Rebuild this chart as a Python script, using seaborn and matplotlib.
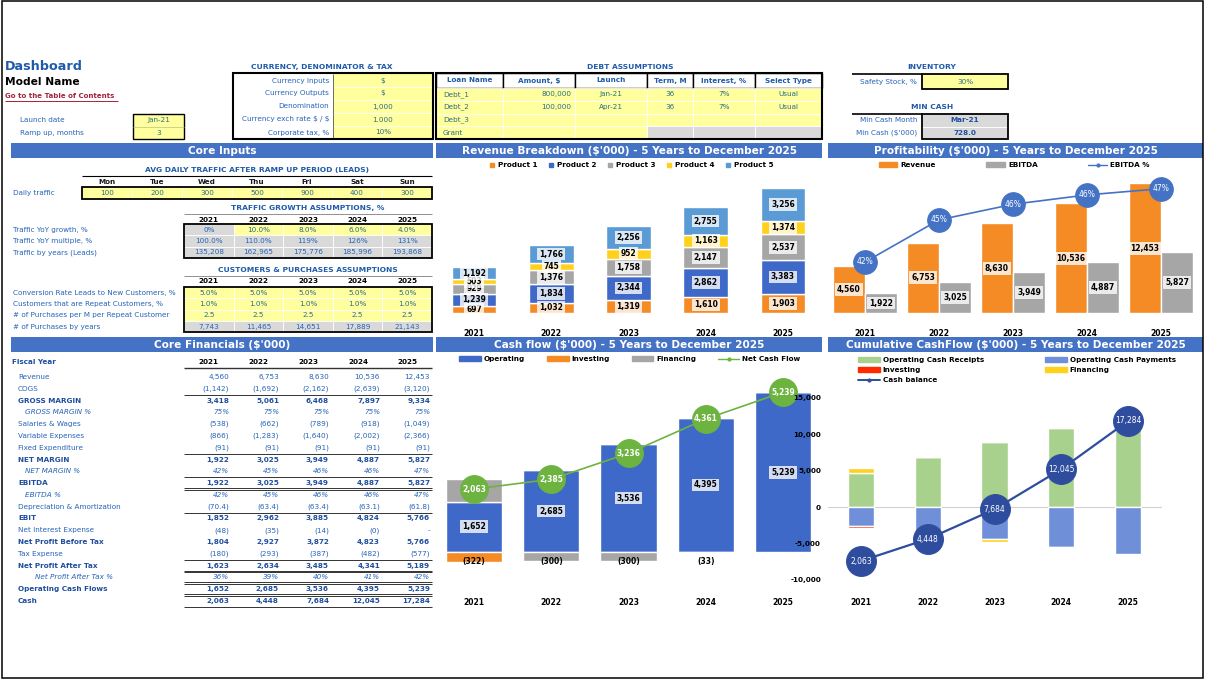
"""Financial model dashboard: input tables, core financials and four summary charts."""
import matplotlib
matplotlib.use("Agg")
import matplotlib.pyplot as plt
from matplotlib.lines import Line2D
from matplotlib.patches import Patch, Rectangle
import numpy as np
import pandas as pd
import seaborn as sns

# ---------------------------------------------------------------- data
years = ["2021", "2022", "2023", "2024", "2025"]

currency_labels = ["Currency Inputs", "Currency Outputs", "Denomination",
                   "Currency exch rate $ / $", "Corporate tax, %"]
currency_values = ["$", "$", "1,000", "1.000", "10%"]

debt_headers = ["Loan Name", "Amount, $", "Launch", "Term, M", "Interest, %", "Select Type"]
debt_names = ["Debt_1", "Debt_2", "Debt_3", "Grant"]
debt_amounts = ["800,000", "100,000", "", ""]
debt_launch = ["Jan-21", "Apr-21", "", ""]
debt_term = ["36", "36", "", ""]
debt_interest = ["7%", "7%", "", ""]
debt_type = ["Usual", "Usual", "", ""]

days = ["Mon", "Tue", "Wed", "Thu", "Fri", "Sat", "Sun"]
daily_traffic = ["100", "200", "300", "500", "900", "400", "300"]

traffic_growth = ["0%", "10.0%", "8.0%", "6.0%", "4.0%"]
traffic_multiple = ["100.0%", "110.0%", "119%", "126%", "131%"]
traffic_leads = ["135,208", "162,965", "175,776", "185,996", "193,868"]

conversion_rate = ["5.0%", "5.0%", "5.0%", "5.0%", "5.0%"]
repeat_share = ["1.0%", "1.0%", "1.0%", "1.0%", "1.0%"]
purchases_per_month = ["2.5", "2.5", "2.5", "2.5", "2.5"]
purchases_by_year = ["7,743", "11,465", "14,651", "17,889", "21,143"]

# (label, values, style)  n = normal, b = bold, p = italic percentage
fin_rows = [
    ("Revenue", ["4,560", "6,753", "8,630", "10,536", "12,453"], "n"),
    ("COGS", ["(1,142)", "(1,692)", "(2,162)", "(2,639)", "(3,120)"], "n"),
    ("GROSS MARGIN", ["3,418", "5,061", "6,468", "7,897", "9,334"], "b"),
    ("GROSS MARGIN %", ["75%", "75%", "75%", "75%", "75%"], "p"),
    ("Salaries & Wages", ["(538)", "(662)", "(789)", "(918)", "(1,049)"], "n"),
    ("Variable Expenses", ["(866)", "(1,283)", "(1,640)", "(2,002)", "(2,366)"], "n"),
    ("Fixed Expenditure", ["(91)", "(91)", "(91)", "(91)", "(91)"], "n"),
    ("NET MARGIN", ["1,922", "3,025", "3,949", "4,887", "5,827"], "b"),
    ("NET MARGIN %", ["42%", "45%", "46%", "46%", "47%"], "p"),
    ("EBITDA", ["1,922", "3,025", "3,949", "4,887", "5,827"], "b"),
    ("EBITDA %", ["42%", "45%", "46%", "46%", "47%"], "p"),
    ("Depreciation & Amortization", ["(70.4)", "(63.4)", "(63.4)", "(63.1)", "(61.8)"], "n"),
    ("EBIT", ["1,852", "2,962", "3,885", "4,824", "5,766"], "b"),
    ("Net Interest Expense", ["(48)", "(35)", "(14)", "(0)", "-"], "n"),
    ("Net Profit Before Tax", ["1,804", "2,927", "3,872", "4,823", "5,766"], "b"),
    ("Tax Expense", ["(180)", "(293)", "(387)", "(482)", "(577)"], "n"),
    ("Net Profit After Tax", ["1,623", "2,634", "3,485", "4,341", "5,189"], "b"),
    ("Net Profit After Tax %", ["36%", "39%", "40%", "41%", "42%"], "p"),
    ("Operating Cash Flows", ["1,652", "2,685", "3,536", "4,395", "5,239"], "b"),
    ("Cash", ["2,063", "4,448", "7,684", "12,045", "17,284"], "b"),
]

product_names = ["Product 1", "Product 2", "Product 3", "Product 4", "Product 5"]
product_1 = [697, 1032, 1319, 1610, 1903]
product_2 = [1239, 1834, 2344, 2862, 3383]
product_3 = [929, 1376, 1758, 2147, 2537]
product_4 = [503, 745, 952, 1163, 1374]
product_5 = [1192, 1766, 2256, 2755, 3256]

revenue = [4560, 6753, 8630, 10536, 12453]
ebitda = [1922, 3025, 3949, 4887, 5827]
ebitda_pct = [0.421, 0.448, 0.458, 0.464, 0.468]

cf_operating = [1652, 2685, 3536, 4395, 5239]
cf_investing = [-322, 0, 0, 0, 0]
cf_financing = [733, -300, -300, -33, 0]
net_cash_flow = [2063, 2385, 3236, 4361, 5239]

cum_receipts = [4650, 6850, 8900, 10800, 12400]
cum_payments = [-2600, -3600, -4450, -5450, -6450]
cum_investing = [-322, 0, 0, 0, 0]
cum_financing = [733, 0, -300, -33, 0]
cash_balance = [2063, 4448, 7684, 12045, 17284]

# ---------------------------------------------------------------- style
W, H = 1206, 682
sns.set_theme(style="white")
plt.rcParams["font.family"] = ["DejaVu Sans"]
plt.rcParams["text.parse_math"] = False   # "$ / $" is plain text here

BAR_BLUE = "#4472C4"
TITLE = "#1F5BAA"
LABEL = "#2563B8"
BOLD_LBL = "#1F4E9E"
INPUT = "#2B6C8C"
YELLOW = "#FFFF9E"
GREY = "#D9D9D9"
ORANGE = "#F58B25"
BLUE = "#3F69C8"
GRAY = "#A6A6A6"
GOLD = "#FFD11A"
SKY = "#5B9BD5"
GREEN = "#6DB33F"
LGREEN = "#A9D18E"
PAYBLUE = "#6F8FD8"
RED = "#FF2A00"
NAVY = "#2F4D9E"
FS = 5.2

fig = plt.figure(figsize=(W / 100, H / 100), dpi=100)
bg = fig.add_axes([0, 0, 1, 1])
bg.set_xlim(0, W)
bg.set_ylim(H, 0)
bg.axis("off")


def rect(x0, y0, x1, y1, fc="none", ec="none", lw=0.0, z=1):
    bg.add_patch(Rectangle((x0, y0), x1 - x0, y1 - y0, facecolor=fc,
                           edgecolor=ec, linewidth=lw, zorder=z))


def hline(x0, x1, y, lw=0.8, color="black", z=2):
    bg.plot([x0, x1], [y, y], color=color, lw=lw, solid_capstyle="butt", zorder=z)


def vline(x, y0, y1, lw=0.8, color="black", z=2):
    bg.plot([x, x], [y0, y1], color=color, lw=lw, solid_capstyle="butt", zorder=z)


def txt(x, y, s, size=FS, color=LABEL, weight="normal", ha="left", style="normal"):
    bg.text(x, y, s, fontsize=size, color=color, fontweight=weight, ha=ha,
            va="center", fontstyle=style, zorder=3)


def section(x0, x1, y0, y1, title):
    rect(x0, y0, x1, y1, fc=BAR_BLUE)
    txt((x0 + x1) / 2, (y0 + y1) / 2 + 0.5, title, size=7.6, color="white", weight="bold", ha="center")


def chart_axes(x0, y0, x1, y1):
    return fig.add_axes([x0 / W, 1 - y1 / H, (x1 - x0) / W, (y1 - y0) / H])


def clean(ax, pad):
    ax.set_facecolor("none")
    for s in ax.spines.values():
        s.set_visible(False)
    ax.set_yticks([])
    ax.set_xlabel("")
    ax.set_ylabel("")
    ax.set_xlim(-0.5, 4.5)
    ax.set_xticks(range(5))
    ax.set_xticklabels(years, fontsize=5.5, fontweight="bold", color="black")
    ax.tick_params(axis="x", length=0, pad=pad)


def value_label(ax, x, y, s, box=True, color="black", weight="bold", z=3):
    kw = dict(boxstyle="square,pad=0.25", fc="white", ec="none", alpha=0.78) if box else None
    ax.text(x, y, s, ha="center", va="center", fontsize=5.5, fontweight=weight,
            color=color, bbox=kw, zorder=z)


def acc(v):
    return f"({abs(v):,.0f})" if v < 0 else f"{v:,.0f}"


# ---------------------------------------------------------------- header block
txt(5, 67, "Dashboard", size=9.2, color=TITLE, weight="bold")
txt(5, 82, "Model Name", size=7.7, color="black", weight="bold")
txt(5, 96, "Go to the Table of Contents", size=5.0, color="#A3243B", weight="bold")
hline(5, 118, 100.5, lw=0.7, color="#A3243B")

txt(20, 120, "Launch date")
txt(20, 133, "Ramp up, months")
rect(133, 114, 184, 139, fc=YELLOW, ec="black", lw=1.0)
hline(133, 184, 126.5, lw=0.5, color="#BFBF80")
txt(158.5, 120, "Jan-21", color=INPUT, ha="center")
txt(158.5, 133, "3", color=INPUT, ha="center")

# currency, denomination & tax
txt(322, 67, "CURRENCY, DENOMINATOR & TAX", size=5.4, color=TITLE, weight="bold", ha="center")
rect(333, 74, 432, 139, fc=YELLOW)
for k, (lab, val) in enumerate(zip(currency_labels, currency_values)):
    y = 80.5 + 13 * k
    txt(329, y, lab, ha="right")
    txt(383, y, val, color=INPUT, ha="center")
    if k < 4:
        hline(333, 432, 74 + 13 * (k + 1), lw=0.6, color="white")
vline(333, 74, 139, lw=0.6, color="#555555")
rect(233, 73, 433, 139, ec="black", lw=1.5, z=4)

# debt assumptions
txt(630, 67, "DEBT ASSUMPTIONS", size=5.4, color=TITLE, weight="bold", ha="center")
cols = [436, 503, 575, 647, 693, 755, 822]
debt_cols = [debt_names, debt_amounts, debt_launch, debt_term, debt_interest, debt_type]
row_h = (139 - 88) / 4
for c, (head, values) in enumerate(zip(debt_headers, debt_cols)):
    x0, x1 = cols[c], cols[c + 1]
    rect(x0, 73, x1, 88, fc="white", ec="black", lw=1.0)
    txt((x0 + x1) / 2, 80.5, head, color=TITLE, weight="bold", ha="center")
    for r, val in enumerate(values):
        y0 = 88 + row_h * r
        fc = GREY if (r == 3 and c >= 3) else YELLOW
        rect(x0, y0, x1, y0 + row_h, fc=fc, ec="white", lw=0.6)
        yc = y0 + row_h / 2
        if c == 0:
            txt(x0 + 7, yc, val, color=INPUT)
        elif c == 1:
            txt(x1 - 4, yc, val, color=INPUT, ha="right")
        else:
            txt((x0 + x1) / 2, yc, val, color=INPUT, ha="center")
rect(436, 73, 822, 139, ec="black", lw=1.5, z=4)

# inventory / min cash
txt(932, 67, "INVENTORY", size=5.4, color=TITLE, weight="bold", ha="center")
hline(852, 922, 74, lw=1.2)
txt(917, 82, "Safety Stock, %", ha="right")
rect(922, 74, 1008, 89, fc=YELLOW, ec="black", lw=1.3)
txt(965, 81.5, "30%", color=INPUT, ha="center")

txt(932, 107, "MIN CASH", size=5.4, color=TITLE, weight="bold", ha="center")
hline(852, 922, 113.5, lw=1.2)
rect(922, 113.5, 1008, 126.5, fc=GREY, ec="white", lw=0.6)
rect(922, 126.5, 1008, 139, fc=GREY, ec="white", lw=0.6)
rect(922, 113.5, 1008, 139, ec="black", lw=1.3, z=4)
txt(917, 120, "Min Cash Month", ha="right")
txt(917, 133, "Min Cash ($'000)", ha="right")
txt(965, 120, "Mar-21", color=BOLD_LBL, weight="bold", ha="center")
txt(965, 133, "728.0", color=BOLD_LBL, weight="bold", ha="center")

# ---------------------------------------------------------------- section bars
section(11, 433, 143, 158, "Core Inputs")
section(436, 822, 143, 158, "Revenue Breakdown ($'000) - 5 Years to December 2025")
section(828, 1203, 143, 158, "Profitability ($'000) - 5 Years to December 2025")
section(11, 433, 337, 352, "Core Financials ($'000)")
section(436, 822, 337, 352, "Cash flow ($'000) - 5 Years to December 2025")
section(828, 1203, 337, 352, "Cumulative CashFlow ($'000) - 5 Years to December 2025")

# ---------------------------------------------------------------- core inputs
txt(257, 170, "AVG DAILY TRAFFIC AFTER RAMP UP PERIOD (LEADS)", size=5.4, color=TITLE,
    weight="bold", ha="center")
hline(82, 432, 176, lw=0.8)
day_w = (432 - 82) / 7
rect(82, 187, 432, 199, fc=YELLOW)
for i, (d, v) in enumerate(zip(days, daily_traffic)):
    xc = 82 + day_w * (i + 0.5)
    txt(xc, 182, d, color="#1A1A1A", weight="bold", ha="center")
    txt(xc, 193, v, color=INPUT, ha="center")
    if i:
        vline(82 + day_w * i, 187, 199, lw=0.5, color="white")
txt(13, 193, "Daily traffic")
rect(82, 187, 432, 199, ec="black", lw=1.3, z=4)

yr_w = (432 - 184) / 5


def year_table(title, title_y, head_y, top, labels, rows, fills):
    txt(308, title_y, title, size=5.4, color=TITLE, weight="bold", ha="center")
    hline(184, 432, title_y + 5.5, lw=0.6, color="#7F7F7F")
    rh = 11.3
    for i, yr in enumerate(years):
        txt(184 + yr_w * (i + 0.5), head_y, yr, color="black", weight="bold", ha="center")
    for r, (lab, vals) in enumerate(zip(labels, rows)):
        y0 = top + rh * r
        txt(13, y0 + rh / 2, lab)
        for i, v in enumerate(vals):
            x0 = 184 + yr_w * i
            fc = fills[r][i]
            rect(x0, y0, x0 + yr_w, y0 + rh, fc=fc, ec="white", lw=0.6)
            txt(x0 + yr_w / 2, y0 + rh / 2, v, color=INPUT if fc == YELLOW else LABEL, ha="center")
    rect(184, top, 432, top + rh * len(rows), ec="black", lw=1.3, z=4)


year_table("TRAFFIC GROWTH ASSUMPTIONS, %", 208, 219.5, 224,
           ["Traffic YoY growth, %", "Traffic YoY multiple, %", "Traffic by years (Leads)"],
           [traffic_growth, traffic_multiple, traffic_leads],
           [[GREY] + [YELLOW] * 4, [GREY] * 5, [GREY] * 5])

year_table("CUSTOMERS & PURCHASES ASSUMPTIONS", 270, 281, 287,
           ["Conversion Rate Leads to New Customers, %", "Customers that are Repeat Customers, %",
            "# of Purchases per M per Repeat Customer", "# of Purchases by years"],
           [conversion_rate, repeat_share, purchases_per_month, purchases_by_year],
           [[YELLOW] * 5, [YELLOW] * 5, [YELLOW] * 5, [GREY] * 5])

# ---------------------------------------------------------------- core financials
txt(12, 362.5, "Fiscal Year", color=BOLD_LBL, weight="bold")
fin_centers = [208, 258, 308, 358, 408]
fin_right = [229, 279, 329, 380, 430]
for xc, yr in zip(fin_centers, years):
    txt(xc, 362, yr, color="black", weight="bold", ha="center")
hline(184, 432, 367.5, lw=1.0, color="#333333")

fin_y0, fin_step = 377, 11.79
for i, (lab, vals, kind) in enumerate(fin_rows):
    y = fin_y0 + fin_step * i
    if kind == "b":
        txt(18, y, lab, color=BOLD_LBL, weight="bold")
    elif kind == "p":
        indent = 35 if lab.startswith("Net") else 25
        txt(indent, y, lab, style="italic")
    else:
        txt(18, y, lab)
    for xr, v in zip(fin_right, vals):
        if kind == "b":
            txt(xr, y, v, color=BOLD_LBL, weight="bold", ha="right")
        elif kind == "p":
            txt(xr, y, v, style="italic", ha="right")
        else:
            txt(xr, y, v, ha="right")

# separators: (row index below which the rule sits, double rule?)
for idx, double in [(1, False), (6, False), (8, False), (9, True), (11, False),
                    (15, False), (16, True), (17, True), (18, True), (19, False)]:
    y = fin_y0 + fin_step * (idx + 0.5)
    hline(184, 432, y - (0.9 if double else 0), lw=0.7, color="#333333")
    if double:
        hline(184, 432, y + 0.9, lw=0.7, color="#333333")

# ---------------------------------------------------------------- chart 1: revenue breakdown
ax1 = chart_axes(435.5, 172, 821.5, 313)
x = np.arange(5)
prod_colors = [ORANGE, BLUE, GRAY, GOLD, SKY]
bottom = np.zeros(5)
for name, vals, col in zip(product_names, [product_1, product_2, product_3, product_4, product_5], prod_colors):
    vals = np.array(vals, dtype=float)
    ax1.bar(x, vals, width=0.58, bottom=bottom, color=col, label=name, zorder=1)
    for xi, b, v in zip(x, bottom, vals):
        value_label(ax1, xi, b + v / 2, acc(v))
    bottom += vals
ax1.set_ylim(0, 14044)
clean(ax1, pad=11.5)
ax1.legend(handles=[Line2D([], [], marker="s", ls="none", color=c, markersize=3.2, label=n)
                    for n, c in zip(product_names, prod_colors)],
           loc="center", bbox_to_anchor=(631 / W, 1 - 165 / H), bbox_transform=fig.transFigure,
           ncol=5, frameon=False, prop={"size": 5.2, "weight": "bold"}, labelcolor="black",
           handlelength=0.8, handletextpad=0.4, columnspacing=1.5, borderpad=0, borderaxespad=0)

# ---------------------------------------------------------------- chart 2: profitability
ax2 = chart_axes(828, 172, 1198, 313)
prof = pd.DataFrame({"year": years * 2, "value": revenue + ebitda,
                     "series": ["Revenue"] * 5 + ["EBITDA"] * 5})
sns.barplot(data=prof, x="year", y="value", hue="series", palette={"Revenue": ORANGE, "EBITDA": GRAY},
            saturation=1, width=0.865, errorbar=None, legend=False, ax=ax2)
off = 0.865 / 4
for i, (r, e) in enumerate(zip(revenue, ebitda)):
    value_label(ax2, i - off, r / 2, acc(r))
    value_label(ax2, i + off, e / 2, acc(e))
ax2.set_ylim(0, 13558)
clean(ax2, pad=11.5)
ax2b = ax2.twinx()
sns.lineplot(x=x, y=ebitda_pct, ax=ax2b, color=BAR_BLUE, lw=1.2, marker="o", markersize=17,
             markeredgecolor=BAR_BLUE, zorder=4)
for i, p in enumerate(ebitda_pct):
    ax2b.text(i, p, f"{p:.0%}", ha="center", va="center", fontsize=5.5, color="white", zorder=5)
ax2b.set_ylim(0.3883, 0.4787)
ax2b.set_xlim(-0.5, 4.5)
ax2b.set_yticks([])
ax2b.set_ylabel("")
for s in ax2b.spines.values():
    s.set_visible(False)
ax2.legend(handles=[Patch(color=ORANGE, label="Revenue"), Patch(color=GRAY, label="EBITDA"),
                    Line2D([], [], color=BAR_BLUE, lw=1.0, marker="o", markersize=2, label="EBITDA %")],
           loc="center", bbox_to_anchor=(1014 / W, 1 - 165 / H), bbox_transform=fig.transFigure,
           ncol=3, frameon=False, prop={"size": 5.2, "weight": "bold"}, labelcolor="black",
           handlelength=2.6, handleheight=0.6, handletextpad=0.4, columnspacing=7.0,
           borderpad=0, borderaxespad=0)

# ---------------------------------------------------------------- chart 3: cash flow
ax3 = chart_axes(435.5, 368, 821.5, 590)
pos = np.zeros(5)
neg = np.zeros(5)
neg_row = min(min(cf_investing), min(cf_financing))
for vals, col in [(cf_operating, BLUE), (cf_investing, ORANGE), (cf_financing, GRAY)]:
    vals = np.array(vals, dtype=float)
    base = np.where(vals >= 0, pos, neg)
    ax3.bar(x, vals, width=0.73, bottom=base, color=col, zorder=1)
    for xi, b, v in zip(x, base, vals):
        if v > 0:
            value_label(ax3, xi, b + v / 2, acc(v))
        elif v < 0:
            value_label(ax3, xi, neg_row, acc(v), box=False)
    pos += np.clip(vals, 0, None)
    neg += np.clip(vals, None, 0)
sns.lineplot(x=x, y=net_cash_flow, ax=ax3, color=GREEN, lw=1.2, marker="o", markersize=20,
             markeredgecolor=GREEN, zorder=4)
for i, v in enumerate(net_cash_flow):
    ax3.text(i, v, acc(v), ha="center", va="center", fontsize=5.5, fontweight="bold",
             color="white", zorder=5)
ax3.set_ylim(-1246, 6033)
clean(ax3, pad=5.8)
ax3.legend(handles=[Patch(color=BLUE, label="Operating"), Patch(color=ORANGE, label="Investing"),
                    Patch(color=GRAY, label="Financing"),
                    Line2D([], [], color=GREEN, lw=1.0, marker="o", markersize=2, label="Net Cash Flow")],
           loc="center", bbox_to_anchor=(630 / W, 1 - 359 / H), bbox_transform=fig.transFigure,
           ncol=4, frameon=False, prop={"size": 5.2, "weight": "bold"}, labelcolor="black",
           handlelength=3.0, handleheight=0.6, handletextpad=0.4, columnspacing=3.0,
           borderpad=0, borderaxespad=0)

# ---------------------------------------------------------------- chart 4: cumulative cash flow
ax4 = chart_axes(827.5, 390, 1161.5, 590)
pos = np.zeros(5)
neg = np.zeros(5)
for vals, col in [(cum_receipts, LGREEN), (cum_payments, PAYBLUE), (cum_investing, RED), (cum_financing, GOLD)]:
    vals = np.array(vals, dtype=float)
    base = np.where(vals >= 0, pos, neg)
    ax4.bar(x, vals, width=0.39, bottom=base, color=col, zorder=2)
    pos += np.clip(vals, 0, None)
    neg += np.clip(vals, None, 0)
ax4.axhline(0, color="#D0D0D0", lw=0.8, zorder=1)
ax4.set_ylim(-11417, 16094)
clean(ax4, pad=5.8)
ax4.yaxis.tick_right()
ax4.set_yticks([-10000, -5000, 0, 5000, 10000, 15000])
ax4.set_yticklabels([f"{t:,}" for t in [-10000, -5000, 0, 5000, 10000, 15000]],
                    fontsize=5.2, fontweight="bold", color="black")
ax4.tick_params(axis="y", length=0, pad=4.7)
ax4b = ax4.twinx()
sns.lineplot(x=x, y=cash_balance, ax=ax4b, color=NAVY, lw=1.6, marker="o", markersize=21.5,
             markeredgecolor=NAVY, zorder=4)
for i, v in enumerate(cash_balance):
    ax4b.text(i, v, acc(v), ha="center", va="center", fontsize=5.5, color="white", zorder=5)
ax4b.set_ylim(-1089, 20650)
ax4b.set_xlim(-0.5, 4.5)
ax4b.set_yticks([])
ax4b.set_ylabel("")
for s in ax4b.spines.values():
    s.set_visible(False)
ax4.legend(handles=[Patch(color=LGREEN, label="Operating Cash Receipts"),
                    Patch(color=RED, label="Investing"),
                    Line2D([], [], color=NAVY, lw=1.4, marker="o", markersize=2, label="Cash balance"),
                    Patch(color=PAYBLUE, label="Operating Cash Payments"),
                    Patch(color=GOLD, label="Financing")],
           loc="center", bbox_to_anchor=(1017 / W, 1 - 370 / H), bbox_transform=fig.transFigure,
           ncol=2, frameon=False, prop={"size": 5.2, "weight": "bold"}, labelcolor="black",
           handlelength=3.0, handleheight=0.6, handletextpad=0.4, columnspacing=8.5,
           labelspacing=0.55, borderpad=0, borderaxespad=0)

# page frame
rect(2, 1, 1203, 678, ec="black", lw=1.1, z=6)

fig.savefig("out.png", dpi=100)
